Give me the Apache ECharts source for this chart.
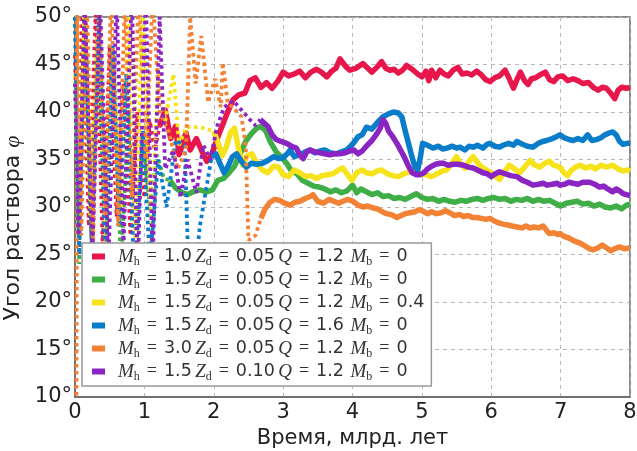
<!DOCTYPE html>
<html>
<head>
<meta charset="utf-8">
<script src="https://cdn.jsdelivr.net/npm/echarts@6/dist/echarts.min.js"></script>
<style>
  html, body { margin: 0; padding: 0; background: #fff; }
  #main { width: 637px; height: 451px; }
</style>
</head>
<body>
<div id="main"></div>
<script>
// legend parameters
const legendMh = ['1.0', '1.5', '1.5', '1.5', '3.0', '1.5']
const legendZd = ['0.05', '0.05', '0.05', '0.05', '0.05', '0.10']
const legendQ = ['1.2', '1.2', '1.2', '1.6', '1.2', '1.2']
const legendMb = ['0', '0', '0.4', '0', '0', '0']
const colors = ['#e8174b', '#3fae46', '#f6e31c', '#0a7dca', '#f28234', '#8a25c4']

// early (dotted) parts, [time, angle]
const redEarly = [[0, 46], [0.04, 29], [0.11, 52], [0.2, 28], [0.3, 51], [0.4, 26], [0.5, 47], [0.6, 29], [0.7, 43], [0.8, 27], [0.9, 40], [1.0, 31], [1.08, 39], [1.15, 36], [1.22, 38.5]]
const greenEarly = [[0, 50], [0.06, 24], [0.14, 52], [0.24, 25], [0.34, 50], [0.46, 27], [0.56, 46], [0.66, 24], [0.78, 40], [0.88, 28], [0.98, 37], [1.08, 30], [1.18, 35.5], [1.28, 33], [1.37, 32.8]]
const yellowEarly = [[0, 44], [0.05, 27], [0.13, 50], [0.22, 29], [0.32, 48], [0.44, 26], [0.55, 46], [0.66, 30], [0.78, 52], [0.88, 24], [0.97, 53], [1.1, 26], [1.2, 44.5], [1.3, 39], [1.42, 44], [1.5, 36.5], [1.6, 38.4], [1.8, 38.4], [2.0, 38.0]]
const blueEarly = [[0, 50], [0.06, 25], [0.14, 51], [0.24, 26], [0.34, 50], [0.44, 23], [0.54, 47], [0.64, 28], [0.74, 44], [0.86, 22], [0.98, 38], [1.08, 24], [1.2, 35], [1.32, 30], [1.45, 37], [1.58, 36.5], [1.66, 18], [1.8, 28], [1.97, 35.3]]
const orangeEarly = [[0.02, 5], [0.03, 54], [0.09, 27], [0.17, 52], [0.26, 26], [0.35, 52], [0.44, 29], [0.52, 53], [0.62, 28], [0.72, 52], [0.82, 31], [0.92, 53], [1.02, 35], [1.12, 52], [1.22, 40], [1.35, 38], [1.48, 34], [1.6, 36], [1.66, 50], [1.74, 43], [1.82, 48], [1.92, 41], [2.02, 43.5], [2.1, 40.5], [2.13, 45.2], [2.2, 41], [2.3, 40.3], [2.4, 39.5], [2.46, 36.5], [2.5, 26.5], [2.6, 27], [2.68, 28.8]]
const purpleEarly = [[0, 43], [0.05, 27], [0.14, 52], [0.25, 25], [0.36, 52], [0.48, 24], [0.6, 52], [0.7, 26], [0.82, 53], [0.9, 22], [1.02, 52], [1.12, 24], [1.22, 50], [1.3, 34], [1.42, 36], [1.52, 31], [1.62, 35], [1.75, 31.5], [1.85, 36.5], [1.95, 35], [2.05, 38.5], [2.15, 40.5], [2.28, 41.2], [2.4, 40.2], [2.52, 39.2], [2.6, 38.6], [2.67, 39.2]]

// later (solid) parts
const redLate = [[1.22, 38.5], [1.3, 40.2], [1.38, 37.2], [1.45, 38.5], [1.5, 35.5], [1.6, 37.8], [1.66, 36], [1.75, 37.2], [1.82, 36], [1.9, 34.8], [1.97, 35.5], [2.05, 37.2], [2.12, 38.5], [2.2, 40], [2.28, 41.3], [2.36, 41.8], [2.45, 42], [2.52, 43.3], [2.6, 43.6], [2.68, 42.6], [2.76, 43.1], [2.84, 42.5], [2.92, 43.2], [3.0, 44.2], [3.08, 43.8], [3.16, 44.0], [3.24, 44.3], [3.32, 43.6], [3.4, 44.2], [3.48, 44.5], [3.55, 44.2], [3.63, 43.7], [3.7, 44.3], [3.76, 44.6], [3.82, 45.6], [3.9, 44.8], [3.96, 44.4], [4.05, 44.6], [4.15, 45.1], [4.22, 44.6], [4.28, 44.2], [4.35, 44.7], [4.42, 45.3], [4.48, 44.6], [4.54, 44.4], [4.6, 44.5], [4.66, 44.1], [4.72, 44.4], [4.78, 44.9], [4.86, 44.5], [4.94, 44.0], [5.0, 43.7], [5.06, 44.3], [5.1, 43.3], [5.14, 44.4], [5.2, 43.6], [5.26, 44.4], [5.32, 44.0], [5.38, 43.8], [5.45, 44.4], [5.52, 44.7], [5.58, 44.0], [5.65, 44.1], [5.72, 43.9], [5.79, 44.3], [5.86, 43.9], [5.92, 43.4], [5.98, 43.2], [6.05, 43.6], [6.12, 43.8], [6.2, 44.4], [6.26, 43.5], [6.32, 42.5], [6.37, 43.4], [6.42, 44.2], [6.48, 43.3], [6.53, 42.9], [6.58, 43.5], [6.64, 43.6], [6.7, 43.9], [6.78, 44.2], [6.84, 43.4], [6.9, 43.2], [6.96, 43.7], [7.03, 43.8], [7.1, 43.3], [7.18, 43.5], [7.25, 43.3], [7.32, 43.0], [7.4, 43.1], [7.47, 42.6], [7.54, 42.3], [7.6, 42.6], [7.66, 42.5], [7.72, 42.0], [7.78, 41.4], [7.83, 42.3], [7.88, 42.6], [7.95, 42.5], [8.0, 42.6]]
const greenLate = [[1.37, 32.8], [1.45, 32.0], [1.55, 31.5], [1.62, 31.3], [1.7, 31.6], [1.8, 31.8], [1.9, 31.6], [1.98, 31.8], [2.06, 32.8], [2.14, 33.0], [2.22, 33.6], [2.3, 34.3], [2.38, 35.6], [2.46, 36.9], [2.54, 37.7], [2.62, 38.3], [2.68, 38.5], [2.75, 38.0], [2.82, 36.8], [2.9, 35.8], [2.97, 35.3], [3.05, 34.6], [3.12, 33.8], [3.2, 33.5], [3.28, 32.8], [3.36, 32.5], [3.44, 32.2], [3.52, 32.1], [3.6, 31.9], [3.68, 31.6], [3.76, 31.8], [3.84, 31.5], [3.92, 31.7], [4.0, 32.3], [4.06, 31.5], [4.12, 31.9], [4.2, 31.6], [4.28, 31.3], [4.36, 31.5], [4.44, 31.1], [4.52, 31.2], [4.6, 30.9], [4.68, 31.0], [4.76, 30.8], [4.84, 31.1], [4.92, 31.4], [5.0, 31.0], [5.08, 30.8], [5.16, 30.9], [5.24, 30.6], [5.32, 30.8], [5.4, 30.6], [5.48, 30.5], [5.56, 30.7], [5.64, 30.6], [5.72, 30.8], [5.8, 30.9], [5.88, 30.7], [5.96, 30.9], [6.04, 31.0], [6.12, 30.8], [6.2, 30.9], [6.28, 30.6], [6.36, 30.8], [6.44, 30.7], [6.52, 30.9], [6.6, 30.6], [6.68, 30.8], [6.76, 30.6], [6.84, 30.7], [6.92, 30.4], [7.0, 30.1], [7.08, 30.4], [7.16, 30.5], [7.24, 30.6], [7.32, 30.3], [7.4, 30.4], [7.48, 30.1], [7.56, 30.3], [7.64, 30.0], [7.72, 29.9], [7.8, 30.1], [7.88, 29.8], [7.95, 30.2], [8.0, 30.3]]
const yellowLate = [[2.0, 38.0], [2.06, 36.8], [2.12, 35.4], [2.18, 36.3], [2.24, 37.8], [2.3, 38.3], [2.36, 36.0], [2.42, 34.4], [2.48, 35.4], [2.55, 35.6], [2.62, 34.6], [2.7, 33.9], [2.78, 33.6], [2.86, 34.3], [2.93, 34.2], [3.0, 33.4], [3.08, 33.2], [3.16, 33.9], [3.24, 33.6], [3.32, 33.2], [3.4, 33.3], [3.48, 33.0], [3.56, 33.3], [3.64, 33.4], [3.72, 33.5], [3.8, 33.9], [3.86, 34.1], [3.93, 33.4], [3.99, 32.8], [4.06, 33.6], [4.14, 33.9], [4.2, 33.6], [4.28, 33.5], [4.36, 33.8], [4.42, 33.9], [4.5, 33.5], [4.58, 33.3], [4.66, 33.2], [4.74, 33.5], [4.82, 33.7], [4.9, 33.9], [4.98, 33.5], [5.06, 33.4], [5.14, 33.2], [5.22, 33.5], [5.3, 33.8], [5.36, 33.9], [5.42, 34.5], [5.5, 35.3], [5.56, 34.5], [5.62, 34.1], [5.68, 34.8], [5.74, 35.3], [5.8, 34.7], [5.86, 34.2], [5.93, 33.9], [6.0, 33.6], [6.06, 33.2], [6.12, 32.9], [6.18, 33.6], [6.26, 34.4], [6.34, 34.0], [6.41, 33.6], [6.48, 34.2], [6.56, 34.9], [6.63, 34.4], [6.7, 34.2], [6.77, 34.6], [6.84, 34.8], [6.9, 34.4], [6.99, 34.2], [7.05, 33.6], [7.1, 33.3], [7.16, 33.9], [7.22, 34.2], [7.28, 34.4], [7.36, 34.1], [7.44, 34.3], [7.5, 34.0], [7.58, 34.4], [7.66, 34.2], [7.75, 34.4], [7.83, 34.0], [7.9, 33.8], [7.97, 33.9], [8.0, 33.8]]
const blueLate = [[1.97, 35.3], [2.03, 35.6], [2.1, 34.4], [2.15, 33.6], [2.2, 34.2], [2.27, 35.3], [2.33, 35.6], [2.4, 34.8], [2.47, 34.2], [2.54, 34.6], [2.62, 34.5], [2.7, 34.6], [2.78, 34.9], [2.86, 35.3], [2.94, 35.1], [3.0, 35.2], [3.06, 35.6], [3.1, 36.0], [3.16, 35.3], [3.24, 35.5], [3.32, 35.8], [3.39, 36.0], [3.46, 35.7], [3.53, 35.9], [3.6, 36.0], [3.68, 35.7], [3.77, 35.6], [3.84, 35.8], [3.91, 36.0], [3.96, 36.3], [4.01, 36.7], [4.08, 37.4], [4.14, 37.6], [4.2, 38.4], [4.28, 38.2], [4.36, 38.9], [4.44, 39.5], [4.52, 39.8], [4.59, 40.0], [4.66, 39.9], [4.71, 39.5], [4.76, 38.0], [4.81, 36.6], [4.86, 35.2], [4.9, 34.2], [4.94, 33.9], [4.98, 35.3], [5.01, 36.7], [5.08, 36.5], [5.16, 36.2], [5.24, 36.4], [5.3, 36.1], [5.36, 36.2], [5.44, 36.4], [5.5, 36.2], [5.55, 36.3], [5.62, 36.0], [5.68, 36.4], [5.74, 36.3], [5.8, 36.5], [5.88, 36.2], [5.94, 36.6], [5.98, 36.7], [6.05, 36.4], [6.12, 36.3], [6.17, 36.5], [6.25, 36.7], [6.32, 36.5], [6.37, 36.9], [6.45, 36.6], [6.52, 36.4], [6.6, 36.3], [6.68, 36.7], [6.74, 36.9], [6.8, 37.0], [6.88, 37.2], [6.94, 37.4], [6.99, 37.6], [7.05, 37.3], [7.12, 37.1], [7.18, 37.0], [7.25, 37.2], [7.32, 37.0], [7.39, 37.6], [7.45, 37.0], [7.52, 37.1], [7.58, 37.3], [7.64, 37.6], [7.7, 37.8], [7.75, 37.9], [7.8, 37.6], [7.85, 36.9], [7.9, 36.6], [7.96, 36.7], [8.0, 36.7]]
const orangeLate = [[2.68, 28.8], [2.74, 29.8], [2.81, 30.5], [2.88, 30.8], [2.95, 30.7], [3.02, 30.4], [3.1, 30.2], [3.17, 30.5], [3.24, 30.6], [3.32, 30.9], [3.39, 31.1], [3.43, 31.3], [3.5, 30.6], [3.58, 30.4], [3.66, 30.8], [3.73, 30.6], [3.8, 30.4], [3.86, 30.6], [3.93, 30.8], [4.01, 30.6], [4.08, 30.2], [4.15, 30.0], [4.22, 30.1], [4.3, 29.9], [4.36, 29.8], [4.43, 29.5], [4.49, 29.3], [4.56, 29.2], [4.64, 28.9], [4.7, 29.1], [4.76, 29.3], [4.83, 29.4], [4.9, 29.5], [4.96, 29.7], [5.01, 29.6], [5.08, 29.3], [5.14, 29.5], [5.21, 29.3], [5.28, 29.4], [5.34, 29.6], [5.4, 29.4], [5.47, 29.1], [5.54, 29.2], [5.6, 29.0], [5.67, 29.1], [5.73, 28.9], [5.79, 28.9], [5.86, 28.8], [5.92, 28.7], [5.98, 28.8], [6.05, 28.5], [6.12, 28.3], [6.17, 28.2], [6.24, 28.1], [6.3, 28.0], [6.37, 27.9], [6.44, 27.8], [6.5, 28.0], [6.56, 27.8], [6.62, 27.9], [6.68, 27.8], [6.75, 28.0], [6.8, 27.5], [6.84, 27.2], [6.9, 27.3], [6.96, 27.1], [6.99, 27.2], [7.05, 26.9], [7.13, 26.7], [7.2, 26.4], [7.28, 26.2], [7.35, 25.9], [7.42, 25.6], [7.47, 25.5], [7.54, 25.7], [7.6, 26.0], [7.66, 25.7], [7.72, 25.4], [7.78, 25.6], [7.85, 25.8], [7.92, 25.6], [8.0, 25.7]]
const purpleLate = [[2.67, 39.2], [2.73, 38.8], [2.78, 38.5], [2.84, 37.6], [2.9, 37.1], [2.97, 36.9], [3.05, 36.7], [3.12, 36.4], [3.19, 36.2], [3.25, 35.4], [3.29, 35.1], [3.34, 35.8], [3.39, 36.0], [3.46, 35.8], [3.53, 35.7], [3.6, 35.6], [3.67, 35.5], [3.74, 35.6], [3.82, 35.6], [3.89, 35.7], [3.96, 35.9], [4.02, 36.0], [4.08, 35.6], [4.14, 35.9], [4.2, 36.4], [4.28, 37.0], [4.35, 37.7], [4.4, 38.3], [4.44, 39.2], [4.48, 38.8], [4.52, 38.0], [4.58, 37.4], [4.64, 36.7], [4.7, 35.9], [4.75, 35.2], [4.8, 34.4], [4.86, 33.6], [4.92, 33.4], [4.97, 33.4], [5.03, 33.6], [5.08, 34.0], [5.14, 34.3], [5.2, 34.5], [5.26, 34.6], [5.31, 34.6], [5.38, 34.4], [5.45, 34.5], [5.52, 34.5], [5.6, 34.4], [5.67, 34.2], [5.74, 34.1], [5.8, 33.9], [5.88, 33.6], [5.94, 33.5], [6.0, 33.2], [6.06, 33.5], [6.12, 33.7], [6.2, 33.5], [6.28, 33.3], [6.37, 33.2], [6.45, 32.8], [6.52, 32.6], [6.6, 32.3], [6.68, 32.4], [6.75, 32.5], [6.8, 32.3], [6.88, 32.4], [6.95, 32.5], [6.99, 32.3], [7.06, 32.4], [7.12, 32.6], [7.18, 32.5], [7.25, 32.4], [7.32, 32.6], [7.42, 32.6], [7.49, 32.4], [7.56, 32.1], [7.62, 32.2], [7.68, 31.9], [7.75, 31.6], [7.8, 31.9], [7.85, 31.7], [7.9, 31.4], [7.95, 31.3], [8.0, 31.2]]

const earlyParts = [redEarly, greenEarly, yellowEarly, blueEarly, orangeEarly, purpleEarly]
const lateParts = [redLate, greenLate, yellowLate, blueLate, orangeLate, purpleLate]
const names = legendMh.map((m, i) => 'Mh=' + m + ' Zd=' + legendZd[i] + ' Q=' + legendQ[i] + ' Mb=' + legendMb[i])

let series = []
names.forEach((name, i) => {
    series.push({
        name: name + ' (early)',
        type: 'line',
        data: earlyParts[i],
        showSymbol: false,
        silent: true,
        lineStyle: { color: colors[i], width: 3.8, type: [3.5, 3.5], cap: 'butt' },
        itemStyle: { color: colors[i] }
    })
    series.push({
        name: name,
        type: 'line',
        data: lateParts[i],
        showSymbol: false,
        lineStyle: { color: colors[i], width: 5.5, join: 'round' },
        itemStyle: { color: colors[i] }
    })
})

const mathFont = 'Liberation Serif'
const chart = echarts.init(document.getElementById('main'))
chart.setOption({
    backgroundColor: '#ffffff',
    animation: false,
    grid: {
        left: 75, right: 7, top: 17, bottom: 54,
        outerBoundsMode: 'none',
        show: true,
        borderColor: '#666',
        borderWidth: 1.5
    },
    legend: {
        data: names,
        orient: 'vertical',
        left: 82,
        top: 243,
        icon: 'rect',
        itemWidth: 13,
        itemHeight: 6,
        itemGap: 2,
        padding: [4, 7, 3, 10],
        backgroundColor: '#fff',
        borderColor: '#999',
        borderWidth: 1.5,
        borderRadius: 0,
        formatter: function (name) {
            let i = names.indexOf(name)
            return '{g|}{m|M}{s|h}{e|=}{n|' + legendMh[i] + '} {m|Z}{s|d}{e|=}{n|' + legendZd[i] +
                '} {m|Q}{e|=}{n|' + legendQ[i] + '}  {m|M}{s|b}{e|=}{n|' + legendMb[i] + '}'
        },
        textStyle: {
            color: '#333',
            rich: {
                g: { width: 8, lineHeight: 22 },
                m: { fontFamily: mathFont, fontStyle: 'italic', fontSize: 19, color: '#333', lineHeight: 22 },
                s: { fontFamily: mathFont, fontSize: 12, color: '#333', verticalAlign: 'top', padding: [11, 0, 0, 0] },
                e: { fontFamily: mathFont, fontSize: 18, color: '#333', lineHeight: 22, padding: [0, 7, 0, 7] },
                n: { fontFamily: 'DejaVu Sans', fontSize: 17.5, color: '#333', lineHeight: 22 }
            }
        }
    },
    xAxis: {
        type: 'value',
        min: 0,
        max: 8,
        interval: 1,
        name: 'Время, млрд. лет',
        nameLocation: 'middle',
        nameGap: 26,
        nameTextStyle: { fontFamily: 'DejaVu Sans', fontSize: 21, color: '#222' },
        axisLine: { show: true, lineStyle: { color: '#666', width: 1.5 } },
        axisTick: { show: false },
        axisLabel: { fontFamily: 'DejaVu Sans', fontSize: 21, color: '#222', margin: 5 },
        splitLine: { show: true, lineStyle: { color: '#b8b8b8', type: [4, 4], width: 1 } }
    },
    yAxis: {
        type: 'value',
        min: 10,
        max: 50,
        interval: 5,
        name: 'Угол раствора {phi|φ}',
        nameLocation: 'middle',
        nameRotate: 90,
        nameGap: 46,
        nameTextStyle: {
            fontFamily: 'DejaVu Sans', fontSize: 22, color: '#222',
            padding: [0, 42, 0, 0],
            rich: { phi: { fontFamily: mathFont, fontStyle: 'italic', fontSize: 22, color: '#222' } }
        },
        axisLine: { show: true, lineStyle: { color: '#666', width: 1.5 } },
        axisTick: { show: false },
        axisLabel: { fontFamily: 'DejaVu Sans', fontSize: 21, color: '#222', margin: 3, formatter: '{value}°' },
        splitLine: { show: true, lineStyle: { color: '#b8b8b8', type: [4, 4], width: 1 } }
    },
    series: series
})
</script>
</body>
</html>
